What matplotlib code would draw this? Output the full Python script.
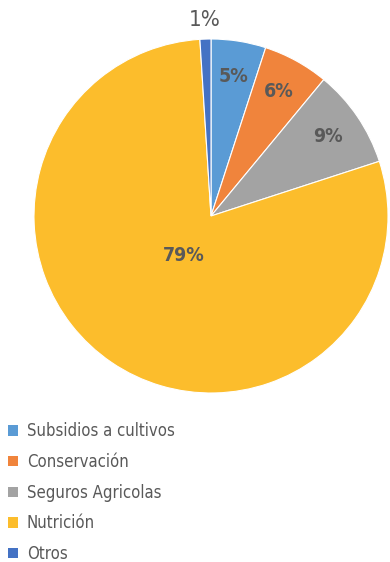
import numpy as np
import matplotlib
matplotlib.use("Agg")
import matplotlib.pyplot as plt

plt.rcParams['font.family'] = ['DejaVu Sans']
plt.rcParams['font.stretch'] = 'condensed'

categories = ['Subsidios a cultivos', 'Conservación', 'Seguros Agricolas', 'Nutrición', 'Otros']
values = [5, 6, 9, 79, 1]
colors = ['#5A9BD5', '#F0843C', '#A3A3A3', '#FCBD2C', '#4472C4']
text_gray = '#595959'

fig = plt.figure(figsize=(3.9, 5.62), dpi=100)
ax = fig.add_axes([34 / 390, 169 / 562, 354 / 390, 354 / 562])

wedges, texts = ax.pie(values, colors=colors, startangle=90, counterclock=False,
                       radius=1, wedgeprops=dict(edgecolor='white', linewidth=0.8))
ax.set_xlim(-1, 1)
ax.set_ylim(-1, 1)
ax.set_aspect('equal')

# percentage labels: inside for most, near centre for the big slice, outside for tiny one
for w, v in zip(wedges, values):
    mid = np.deg2rad((w.theta1 + w.theta2) / 2)
    if v >= 50:
        r, fs, fw = 0.27, 14, 'bold'
    elif v < 3:
        r, fs, fw = 1.11, 16, 'normal'
    else:
        r, fs, fw = 0.8, 14, 'bold'
    ax.text(r * np.cos(mid), r * np.sin(mid), f'{v}%', ha='center', va='center',
            fontsize=fs, fontweight=fw, color=text_gray, clip_on=False)

leg = fig.legend(wedges, categories, loc='upper left', bbox_to_anchor=(0.0, 1 - 414 / 562),
                 frameon=False, fontsize=12, labelcolor=text_gray,
                 handlelength=0.6, handleheight=0.6, handletextpad=0.5,
                 labelspacing=0.76, borderaxespad=0, borderpad=0.5)
for h in leg.legend_handles:
    h.set_edgecolor('none')

fig.savefig('out.png', dpi=100)
